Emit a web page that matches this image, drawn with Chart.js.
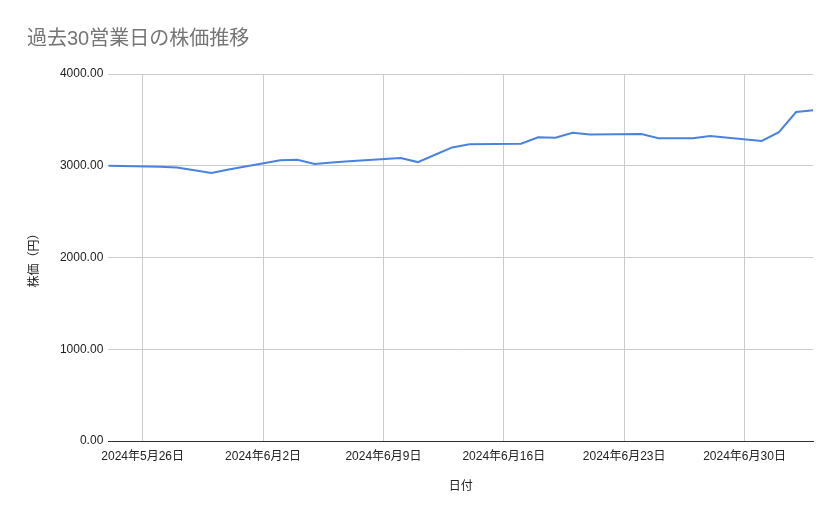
<!DOCTYPE html>
<html>
<head>
<meta charset="utf-8">
<script src="https://cdn.jsdelivr.net/npm/chart.js@4/dist/chart.umd.min.js"></script>
<style>
  html, body { margin: 0; padding: 0; background: #fff; }
  #wrap { width: 839px; height: 519px; }
</style>
</head>
<body>
<div id="wrap"><canvas id="priceChart"></canvas></div>
<script>
// 30 business days of closing prices
var dates = [
    '2024-05-24', '2024-05-27', '2024-05-28', '2024-05-29', '2024-05-30', '2024-05-31',
    '2024-06-03', '2024-06-04', '2024-06-05', '2024-06-06', '2024-06-07',
    '2024-06-10', '2024-06-11', '2024-06-12', '2024-06-13', '2024-06-14',
    '2024-06-17', '2024-06-18', '2024-06-19', '2024-06-20', '2024-06-21',
    '2024-06-24', '2024-06-25', '2024-06-26', '2024-06-27', '2024-06-28',
    '2024-07-01', '2024-07-02', '2024-07-03', '2024-07-04'
];
var prices = [
    3000, 2990, 2980, 2950, 2920, 2960,
    3060, 3065, 3020, 3035, 3050,
    3085, 3040, 3120, 3200, 3235,
    3240, 3310, 3305, 3360, 3340,
    3345, 3300, 3300, 3300, 3325,
    3270, 3365, 3585, 3605
];
var tickDates = ['2024-05-26', '2024-06-02', '2024-06-09', '2024-06-16', '2024-06-23', '2024-06-30'];
var yTicks = [0, 1000, 2000, 3000, 4000];

var FONT = "'Liberation Sans', Arial, 'Noto Sans CJK JP', sans-serif";

function dayNum(s) {
    return Date.parse(s + 'T00:00:00Z') / 86400000;
}

function jpDate(v) {
    var d = new Date(v * 86400000);
    return d.getUTCFullYear() + '年' + (d.getUTCMonth() + 1) + '月' + d.getUTCDate() + '日';
}

var points = dates.map(function (d, i) {
    return { x: dayNum(d), y: prices[i] };
});

var ctx = document.getElementById('priceChart').getContext('2d');

var chart = new Chart(ctx, {
    type: 'line',
    data: {
        datasets: [{
            label: '株価',
            data: points,
            borderColor: '#4a83dd',
            borderWidth: 2,
            pointRadius: 0,
            tension: 0,
            fill: false
        }]
    },
    options: {
        responsive: true,
        maintainAspectRatio: false,
        animation: false,
        layout: { padding: { left: 27, right: 25.7, top: 0, bottom: 0 } },
        plugins: {
            legend: { display: false },
            tooltip: { enabled: false },
            title: {
                display: true,
                text: '過去30営業日の株価推移',
                align: 'start',
                color: '#757575',
                font: { family: FONT, size: 20, weight: 'normal' },
                padding: { top: 27.5, bottom: 22.5 }
            }
        },
        scales: {
            x: {
                type: 'linear',
                min: dayNum(dates[0]),
                max: dayNum(dates[dates.length - 1]),
                afterBuildTicks: function (scale) {
                    scale.ticks = tickDates.map(function (d) { return { value: dayNum(d) }; });
                },
                afterFit: function (scale) { scale.height = 78; },
                grid: { color: '#cccccc', drawTicks: false },
                border: { display: true, color: '#333333', width: 1 },
                ticks: {
                    autoSkip: false,
                    maxRotation: 0,
                    padding: 8,
                    color: '#222222',
                    font: { family: FONT, size: 12 },
                    callback: function (v) { return jpDate(v); }
                },
                title: {
                    display: true,
                    text: '日付',
                    color: '#222222',
                    font: { family: FONT, size: 12 },
                    padding: { top: 0, bottom: 25 }
                }
            },
            y: {
                min: yTicks[0],
                max: yTicks[yTicks.length - 1],
                afterBuildTicks: function (scale) {
                    scale.ticks = yTicks.map(function (v) { return { value: v }; });
                },
                afterFit: function (scale) { scale.width = 81.3; },
                grid: {
                    drawTicks: false,
                    color: function (c) { return c.tick && c.tick.value === 0 ? '#333333' : '#cccccc'; }
                },
                border: { display: false },
                ticks: {
                    padding: 5,
                    color: '#222222',
                    font: { family: FONT, size: 12 },
                    callback: function (v) { return Number(v).toFixed(2); }
                },
                title: {
                    display: true,
                    text: '株価（円）',
                    color: '#222222',
                    font: { family: FONT, size: 12 },
                    padding: { top: 0, bottom: 0 }
                }
            }
        }
    }
});
</script>
</body>
</html>
